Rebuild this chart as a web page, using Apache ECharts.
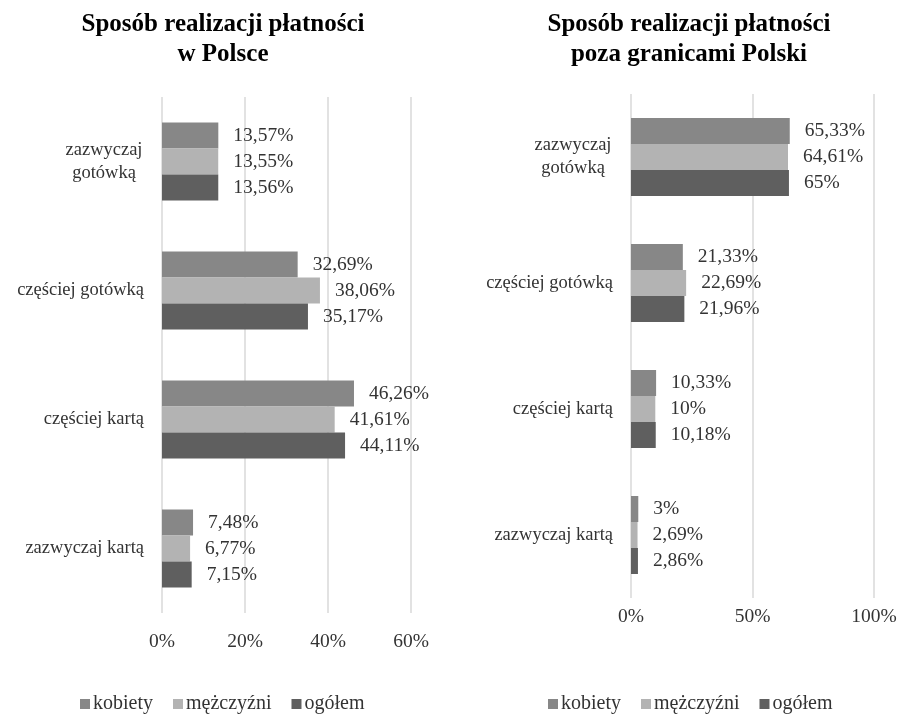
<!DOCTYPE html>
<html>
<head>
<meta charset="utf-8">
<script src="https://cdn.jsdelivr.net/npm/echarts@6/dist/echarts.min.js"></script>
<style>
  html, body { margin: 0; padding: 0; background: #fff; }
  #chart { width: 902px; height: 715px; }
</style>
</head>
<body>
<div id="chart"></div>
<script>
// kategorie (od góry do dołu)
var categories = ['zazwyczaj\ngotówką', 'częściej gotówką', 'częściej kartą', 'zazwyczaj kartą']
var seriesNames = ['kobiety', 'mężczyźni', 'ogółem']

// w Polsce
var plKobiety = [13.57, 32.69, 46.26, 7.48]
var plMezczyzni = [13.55, 38.06, 41.61, 6.77]
var plOgolem = [13.56, 35.17, 44.11, 7.15]

// poza granicami Polski
var zagrKobiety = [65.33, 21.33, 10.33, 3]
var zagrMezczyzni = [64.61, 22.69, 10, 2.69]
var zagrOgolem = [65, 21.96, 10.18, 2.86]

var leftTicks = { min: 0, max: 60, interval: 20 }
var rightTicks = { min: 0, max: 100, interval: 50 }

var colors = ['#878787', '#b3b3b3', '#5f5f5f']
var font = 'Liberation Serif'
var textColor = '#333'

function pct(v) {
  return String(v).replace('.', ',') + '%'
}

function makeSeries(name, data, idx) {
  return {
    name: name,
    type: 'bar',
    xAxisIndex: idx,
    yAxisIndex: idx,
    data: data,
    barWidth: 26,
    barGap: '0%',
    itemStyle: { color: colors[seriesNames.indexOf(name)] },
    label: {
      show: true,
      position: 'right',
      distance: 15,
      fontFamily: font,
      fontSize: 19.5,
      color: textColor,
      formatter: function(p) { return pct(p.value) }
    }
  }
}

function xAxisFor(idx, ticks, margin) {
  return {
    type: 'value',
    gridIndex: idx,
    min: ticks.min,
    max: ticks.max,
    interval: ticks.interval,
    axisLine: { show: false },
    axisTick: { show: false },
    splitLine: { lineStyle: { color: '#d9d9d9', width: 1.5 } },
    axisLabel: {
      margin: margin,
      fontFamily: font,
      fontSize: 19.5,
      color: textColor,
      formatter: '{value}%'
    }
  }
}

function yAxisFor(idx) {
  return {
    type: 'category',
    gridIndex: idx,
    inverse: true,
    data: categories,
    axisLine: { show: false },
    axisTick: { show: false },
    axisLabel: {
      margin: 18,
      fontFamily: font,
      fontSize: 18.5,
      color: textColor,
      lineHeight: 23,
      align: 'right',
      // wielowierszowe etykiety wyśrodkowane
      formatter: function(value) {
        if (value.indexOf('\n') < 0) return value
        return value.split('\n').map(function(s) { return '{c|' + s + '}' }).join('\n')
      },
      rich: {
        c: { width: 80, align: 'center', fontFamily: font, fontSize: 18.5, color: textColor, lineHeight: 23 }
      }
    }
  }
}

var legendBase = {
  data: seriesNames,
  top: 688,
  icon: 'rect',
  itemWidth: 10,
  itemHeight: 10,
  itemGap: 20,
  textStyle: { fontFamily: font, fontSize: 20, color: textColor, lineHeight: 22, padding: [0, 0, 0, -2] }
}

var titleStyle = { fontFamily: font, fontSize: 25, fontWeight: 'bold', color: '#000', lineHeight: 30 }

var option = {
  animation: false,
  title: [
    {
      text: 'Sposób realizacji płatności\nw Polsce',
      left: 218,
      top: 5,
      textAlign: 'center',
      textStyle: titleStyle
    },
    {
      text: 'Sposób realizacji płatności\npoza granicami Polski',
      left: 684,
      top: 5,
      textAlign: 'center',
      textStyle: titleStyle
    }
  ],
  legend: [
    Object.assign({ left: 75 }, legendBase),
    Object.assign({ left: 543 }, legendBase)
  ],
  grid: [
    { left: 162, width: 249, top: 97, height: 516 },
    { left: 631, width: 243, top: 94, height: 504 }
  ],
  xAxis: [xAxisFor(0, leftTicks, 19), xAxisFor(1, rightTicks, 9)],
  yAxis: [yAxisFor(0), yAxisFor(1)],
  series: [
    makeSeries('kobiety', plKobiety, 0),
    makeSeries('mężczyźni', plMezczyzni, 0),
    makeSeries('ogółem', plOgolem, 0),
    makeSeries('kobiety', zagrKobiety, 1),
    makeSeries('mężczyźni', zagrMezczyzni, 1),
    makeSeries('ogółem', zagrOgolem, 1)
  ]
}

var myChart = echarts.init(document.getElementById('chart'))
myChart.setOption(option)
</script>
</body>
</html>
